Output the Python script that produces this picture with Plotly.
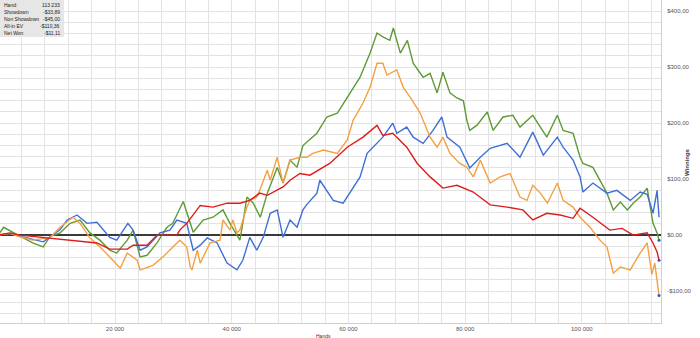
import plotly.graph_objects as go

# ---- data (hands, $) ----
net_won = [(0,0),(900,14),(3700,-2),(5900,-14),(7700,-21),(8900,-2),(10600,4),(12300,21),(14000,27),
           (15700,4),(17400,-9),(19100,-27),(20300,-32),(22100,-9),(23100,9),(24300,-39),(25500,-36),
           (27200,-14),(28900,14),(29900,21),(31700,60),(32300,39),(32900,21),(33400,5),(35100,27),
           (36800,32),(38500,45),(39700,21),(40900,0),(41400,-9),(42000,27),(42600,68),(43700,57),
           (44900,32),(46100,75),(47800,121),(48800,93),(50000,134),(51200,121),(52200,160),(54600,182),
           (56300,211),(58100,218),(59800,246),(62000,282),(63700,325),(64900,361),(65900,354),(67100,348),
           (67700,370),(68900,325),(70100,348),(71100,307),(72800,282),(74000,289),(75200,254),(76200,291),
           (77400,254),(78600,245),(79700,240),(80300,205),(80800,187),(82000,196),(83800,220),(84800,187),
           (86500,211),(88200,214),(89400,193),(91600,214),(94000,175),(95800,214),(96800,187),(98500,182),
           (99700,139),(100200,128),(101900,121),(103100,98),(104300,75),(105400,45),(106600,59),(107800,45),
           (108800,57),(110000,68),(111200,84),(112200,21),(112900,4),(113233,-9)]

showdown = [(0,0),(2000,3),(3700,-2),(5900,-8),(7700,-12),(8900,-3),(10600,10),(11800,27),(13500,36),(15200,21),
            (16900,23),(19100,-4),(20300,-9),(22200,21),(23100,9),(24300,-27),(25500,-21),(27700,4),
            (29400,9),(30600,27),(32300,21),(33400,-27),(34600,-18),(35800,-5),(37500,-14),(39200,-50),
            (40900,-62),(41900,-45),(43100,-4),(44300,-27),(45400,-4),(46600,39),(47800,45),(48800,-4),
            (50000,27),(51200,14),(52200,45),(52900,55),(54600,75),(55100,98),(57400,62),(59100,57),
            (62000,104),(63200,146),(64200,157),(65900,175),(67600,200),(68300,182),(70000,193),(71100,175),
            (72800,164),(74500,187),(76000,211),(76900,175),(79100,157),(80800,120),(82600,139),(84300,155),
            (87200,164),(89400,139),(91600,184),(93400,143),(95800,175),(96800,157),(98500,134),(99700,104),
            (100200,77),(101900,93),(104300,75),(106000,80),(108300,62),(110000,77),(111200,73),(112200,39),
            (112900,80),(113233,32)]

non_showdown = [(0,0),(2000,4),(3700,0),(8900,-5),(12300,-9),(16900,-14),(19100,-25),(22100,-25),(23100,-18),
                (25500,-18),(27200,0),(30600,0),(31100,9),(32300,21),(34600,53),(36800,50),(39200,57),
                (41400,57),(43100,62),(44800,75),(46100,71),(48800,86),(50000,98),(51700,110),(53400,107),
                (56800,128),(59800,157),(62500,175),(64900,196),(65900,178),(67600,182),(68300,175),(70000,157),
                (71800,128),(74000,104),(76200,84),(78600,89),(81400,77),(84300,54),(87200,50),(89900,45),
                (91600,27),(94000,39),(96300,36),(98500,30),(99700,48),(101900,32),(104800,9),(106900,12),
                (108800,0),(111200,4),(112200,-14),(112900,-30),(113233,-45)]

allin_ev = [(0,0),(2000,3),(3700,-3),(5900,-9),(8900,-4),(10600,14),(12800,32),(14000,21),(15700,-5),
            (17400,-21),(19100,-39),(20900,-59),(22100,-32),(23800,-45),(24300,-62),(26500,-54),(28200,-39),
            (29900,-21),(31100,-9),(32300,-21),(32900,-57),(33200,-62),(34100,-27),(34600,-50),(36300,-14),
            (38000,-9),(38500,27),(39700,9),(40200,27),(40900,4),(41400,9),(42600,50),(43100,62),(44300,68),
            (44800,80),(46100,116),(46600,98),(47800,139),(48800,93),(50000,134),(51700,139),(52900,139),
            (53900,146),(55700,152),(58100,146),(59800,170),(60800,205),(62500,236),(63700,264),(64900,307),
            (65900,307),(66600,286),(68300,295),(69400,264),(70600,246),(72300,218),(74000,175),(75200,157),
            (76200,175),(77400,146),(79100,128),(80300,121),(81400,104),(82600,134),(84300,93),(86000,104),
            (87700,110),(89400,68),(90600,62),(91600,89),(92900,75),(94100,57),(95800,93),(96800,62),
            (98500,50),(99700,32),(101400,14),(103100,-9),(104300,-21),(105400,-68),(106600,-57),(108300,-62),
            (110000,-32),(111200,-14),(112000,-70),(112500,-50),(113000,-85),(113233,-108)]

x_tickvals = [20000, 40000, 60000, 80000, 100000]
x_ticktext = ["20 000", "40 000", "60 000", "80 000", "100 000"]
y_tickvals = [-100, 0, 100, 200, 300, 400]
y_ticktext = ["-$100,00", "$0,00", "$100,00", "$200,00", "$300,00", "$400,00"]

table_labels = ["Hand:", "Showdown", "Non Showdown", "All-in EV", "Net Won"]
table_values = ["113 233", "-$33,89", "-$45,00", "-$110,36", "-$11,11"]

series = [
    ("Net Won", net_won, "#5f9a35"),
    ("Showdown", showdown, "#3f6fd6"),
    ("All-in EV", allin_ev, "#f4a043"),
    ("Non Showdown", non_showdown, "#dd1c1c"),
]

fig = go.Figure()
for name, pts, col in series:
    fig.add_trace(go.Scatter(x=[p[0] for p in pts], y=[p[1] for p in pts], mode="lines",
                             line=dict(color=col, width=1.4), name=name, hoverinfo="skip"))

ends = [net_won[-1], non_showdown[-1], allin_ev[-1]]
fig.add_trace(go.Scatter(x=[p[0] for p in ends], y=[p[1] for p in ends], mode="markers",
                         marker=dict(color="#3355cc", size=3), hoverinfo="skip"))

W, H = 661, 323  # plot area px
def px(x): return x / W
def py(y): return 1 - y / H

fig.update_layout(
    width=700, height=338, margin=dict(l=0, r=700 - W, t=0, b=338 - H),
    paper_bgcolor="white", plot_bgcolor="white", showlegend=False,
    font=dict(family="Liberation Sans, Arial", size=6, color="#444"),
    xaxis=dict(range=[290, 113570], tickvals=x_tickvals, ticktext=x_ticktext,
               showgrid=True, gridcolor="#e3e3e3", gridwidth=1,
               minor=dict(dtick=4000, tick0=0, showgrid=True, gridcolor="#e3e3e3", gridwidth=1),
               showline=True, linecolor="#cfcfcf", linewidth=1, zeroline=False,
               ticks="", tickfont=dict(size=6, color="#555")),
    yaxis=dict(range=[-157, 420], side="right", tickvals=y_tickvals, ticktext=y_ticktext,
               showgrid=True, gridcolor="#e3e3e3", gridwidth=1,
               minor=dict(dtick=20, tick0=0, showgrid=True, gridcolor="#e3e3e3", gridwidth=1),
               showline=True, linecolor="#cfcfcf", linewidth=1,
               zeroline=True, zerolinecolor="#3a3a3a", zerolinewidth=1.5,
               ticks="outside", ticklen=4, tickcolor="rgba(0,0,0,0)",
               tickfont=dict(size=6, color="#555")),
)

# info table
fig.add_shape(type="rect", xref="paper", yref="paper", x0=0, x1=px(64), y0=py(37), y1=1,
              fillcolor="#e6e6e6", line=dict(width=0), layer="above")
for i, (lab, val) in enumerate(zip(table_labels, table_values)):
    yy = py(5 + i * 7)
    fig.add_annotation(xref="paper", yref="paper", x=px(2), y=yy, text=lab,
                       showarrow=False, xanchor="left", yanchor="middle",
                       font=dict(size=5, color="#222"))
    fig.add_annotation(xref="paper", yref="paper", x=px(62), y=yy, text=val,
                       showarrow=False, xanchor="right", yanchor="middle",
                       font=dict(size=5, color="#222"))

fig.add_annotation(xref="paper", yref="paper", x=px(692), y=py(162), text="<b>Winnings</b>",
                   textangle=-90, showarrow=False, font=dict(size=6, color="#333"))
fig.add_annotation(xref="paper", yref="paper", x=px(323), y=py(331), text="Hands",
                   showarrow=False, yanchor="top", font=dict(size=5, color="#333"))

fig.write_html("out.html")
